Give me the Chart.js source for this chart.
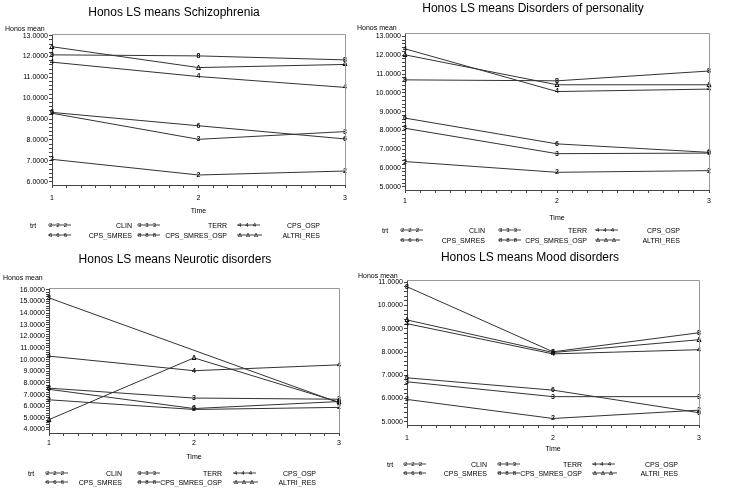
<!DOCTYPE html>
<html>
<head>
<meta charset="utf-8">
<script src="https://cdn.jsdelivr.net/npm/chart.js@4/dist/chart.umd.min.js"></script>
<style>
  body { margin: 0; background: #fff; width: 731px; height: 491px; position: relative; overflow: hidden;
         font-family: "Liberation Sans", Arial, sans-serif; color: #000; }
  canvas { position: absolute; }
  .title { position: absolute; font-size: 12px; white-space: nowrap; transform: translate(-50%, -50%); }
  .small, .lab, .sym { position: absolute; white-space: nowrap; will-change: transform; -webkit-font-smoothing: antialiased; color: #000; }
  .small { font-size: 7px; transform: translateY(-50%); }
  .lab { font-size: 7px; transform: translate(-100%, -50%); }
  .sym { font-size: 6px; letter-spacing: 4px; transform: translateY(-50%); padding-left: 1px;
         background: linear-gradient(#444, #444) center / 100% 1px no-repeat; line-height: 7px; }
</style>
</head>
<body>
<script>
// dati
const times = [1, 2, 3];
const groups = ['CLIN', 'TERR', 'CPS_OSP', 'CPS_SMRES', 'CPS_SMRES_OSP', 'ALTRI_RES'];
const markers = ['2', '3', '4', '6', '8', '\u0394'];

// Schizophrenia
const schizoCLIN = [7.07, 6.32, 6.51];
const schizoTERR = [9.28, 8.03, 8.40];
const schizoCPS_OSP = [11.73, 11.04, 10.52];
const schizoCPS_SMRES = [9.32, 8.68, 8.05];
const schizoCPS_SMRES_OSP = [12.08, 12.03, 11.84];
const schizoALTRI_RES = [12.47, 11.47, 11.62];
const schizoTicks = [6, 7, 8, 9, 10, 11, 12, 13];

// Disorders of personality
const persCLIN = [6.35, 5.78, 5.87];
const persTERR = [8.12, 6.77, 6.80];
const persCPS_OSP = [12.34, 10.07, 10.20];
const persCPS_SMRES = [8.66, 7.29, 6.84];
const persCPS_SMRES_OSP = [10.69, 10.64, 11.16];
const persALTRI_RES = [12.02, 10.43, 10.43];
const persTicks = [5, 6, 7, 8, 9, 10, 11, 12, 13];

// Neurotic disorders (CPS_SMRES_OSP senza valore al tempo 2)
const neurCLIN = [6.55, 5.72, 5.90];
const neurTERR = [7.55, 6.70, 6.60];
const neurCPS_OSP = [10.30, 9.05, 9.55];
const neurCPS_SMRES = [7.45, 5.80, 6.40];
const neurCPS_SMRES_OSP = [15.30, null, 6.30];
const neurALTRI_RES = [4.85, 10.15, 6.35];
const neurTicks = [4, 5, 6, 7, 8, 9, 10, 11, 12, 13, 14, 15, 16];

// Mood disorders
const moodCLIN = [5.96, 5.14, 5.50];
const moodTERR = [6.72, 6.08, 6.08];
const moodCPS_OSP = [9.22, 7.92, 8.10];
const moodCPS_SMRES = [6.89, 6.36, 5.39];
const moodCPS_SMRES_OSP = [10.81, 8.01, 8.83];
const moodALTRI_RES = [9.38, 7.98, 8.53];
const moodTicks = [5, 6, 7, 8, 9, 10, 11];

// posizioni dei pannelli (pixel della pagina)
const panels = [
  { title: 'Honos LS means Schizophrenia', titleX: 174, titleY: 12,
    series: [schizoCLIN, schizoTERR, schizoCPS_OSP, schizoCPS_SMRES, schizoCPS_SMRES_OSP, schizoALTRI_RES],
    ticks: schizoTicks, yMin: 5.84, yMax: 13.08,
    x: 0, y: 0, w: 365, area: { l: 52, r: 345, t: 34, b: 185 }, xPad: 6, timeY: 211, yLabX: 5, yLabY: 28,
    leg: { trt: 30, sym: [48, 137, 237], lab: [132, 227, 320], rows: [225, 235] } },
  { title: 'Honos LS means Disorders of personality', titleX: 533, titleY: 8,
    series: [persCLIN, persTERR, persCPS_OSP, persCPS_SMRES, persCPS_SMRES_OSP, persALTRI_RES],
    ticks: persTicks, yMin: 4.84, yMax: 13.18,
    x: 365, y: 0, w: 366, area: { l: 405, r: 709, t: 33, b: 190 }, xPad: 4, timeY: 218, yLabX: 357, yLabY: 27,
    leg: { trt: 382, sym: [400, 498, 595], lab: [485, 587, 680], rows: [230, 240] } },
  { title: 'Honos LS means Neurotic disorders', titleX: 175, titleY: 259,
    series: [neurCLIN, neurTERR, neurCPS_OSP, neurCPS_SMRES, neurCPS_SMRES_OSP, neurALTRI_RES],
    ticks: neurTicks, yMin: 3.7, yMax: 16.15,
    x: 0, y: 245, w: 365, area: { l: 49, r: 339, t: 288, b: 433 }, xPad: 3, timeY: 457, yLabX: 3, yLabY: 277,
    leg: { trt: 28, sym: [45, 137, 233], lab: [122, 222, 316], rows: [473, 482] } },
  { title: 'Honos LS means Mood disorders', titleX: 530, titleY: 257,
    series: [moodCLIN, moodTERR, moodCPS_OSP, moodCPS_SMRES, moodCPS_SMRES_OSP, moodALTRI_RES],
    ticks: moodTicks, yMin: 4.86, yMax: 11.1,
    x: 365, y: 245, w: 366, area: { l: 407, r: 699, t: 280, b: 425 }, xPad: 6, timeY: 449, yLabX: 358, yLabY: 275,
    leg: { trt: 387, sym: [403, 497, 592], lab: [487, 582, 678], rows: [464, 473] } }
];

const isInt = v => Math.abs(v - Math.round(v)) < 1e-6;

// cornice superiore e destra
const framePlugin = {
  id: 'frame',
  afterDraw(chart) {
    const a = chart.chartArea, ctx = chart.ctx;
    ctx.save();
    ctx.strokeStyle = '#999';
    ctx.lineWidth = 1;
    ctx.beginPath();
    ctx.moveTo(a.left, a.top + 0.5);
    ctx.lineTo(a.right + 0.5, a.top + 0.5);
    ctx.lineTo(a.right + 0.5, a.bottom);
    ctx.stroke();
    ctx.restore();
  }
};

// simboli SAS sui punti
const markerPlugin = {
  id: 'markers',
  afterDatasetsDraw(chart) {
    const ctx = chart.ctx;
    ctx.save();
    ctx.font = 'bold 7px "Liberation Sans", Arial, sans-serif';
    ctx.textAlign = 'center';
    ctx.textBaseline = 'middle';
    ctx.fillStyle = '#111';
    chart.data.datasets.forEach((ds, i) => {
      chart.getDatasetMeta(i).data.forEach(pt => {
        if (pt.skip) return;
        ctx.fillText(ds.marker, pt.x, pt.y);
      });
    });
    ctx.restore();
  }
};

function addDiv(cls, text, x, y) {
  const d = document.createElement('div');
  d.className = cls;
  d.textContent = text;
  d.style.left = x + 'px';
  d.style.top = y + 'px';
  document.body.appendChild(d);
  return d;
}

function makePanel(p) {
  const h = p.timeY - p.y + 4;
  const cv = document.createElement('canvas');
  cv.width = p.w; cv.height = h;
  cv.style.width = p.w + 'px'; cv.style.height = h + 'px';
  cv.style.left = p.x + 'px'; cv.style.top = p.y + 'px';
  document.body.appendChild(cv);

  const xTicks = [];
  for (let k = 10; k <= 30; k++) xTicks.push(k / 10);
  const yTicks = [];
  for (let v = p.ticks[0]; v <= p.ticks[p.ticks.length - 1] + 1e-6; v += 0.2) yTicks.push(Math.round(v * 10) / 10);

  new Chart(cv, {
    type: 'line',
    data: {
      datasets: groups.map((g, i) => ({
        label: g,
        marker: markers[i],
        data: p.series[i].map((v, k) => ({ x: times[k], y: v })),
        borderColor: '#333',
        borderWidth: 1,
        pointRadius: 0,
        spanGaps: true,
        tension: 0
      }))
    },
    options: {
      responsive: false,
      animation: false,
      events: [],
      layout: { padding: { left: 0, top: p.area.t - p.y, right: p.x + p.w - p.area.r, bottom: 0 } },
      plugins: { legend: { display: false }, tooltip: { enabled: false }, title: { display: false } },
      scales: {
        x: {
          type: 'linear', min: 1, max: 3,
          afterBuildTicks: s => { s.ticks = xTicks.map(v => ({ value: v })); },
          afterFit: s => { s.height = h - (p.area.b - p.y); },
          ticks: { autoSkip: false, maxRotation: 0, padding: p.xPad, color: '#000',
                   font: { size: 7, family: '"Liberation Sans", Arial, sans-serif' },
                   callback: v => isInt(v) ? String(Math.round(v)) : '' },
          grid: { drawOnChartArea: false, tickLength: 3, color: '#444' },
          border: { color: '#444' },
          title: { display: true, text: 'Time', color: '#000', padding: 0,
                   font: { size: 7, family: '"Liberation Sans", Arial, sans-serif' } }
        },
        y: {
          min: p.yMin, max: p.yMax,
          afterBuildTicks: s => { s.ticks = yTicks.map(v => ({ value: v })); },
          afterFit: s => { s.width = p.area.l - p.x; },
          ticks: { autoSkip: false, padding: 1, color: '#000',
                   font: { size: 7, family: '"Liberation Sans", Arial, sans-serif' },
                   callback: v => isInt(v) ? v.toFixed(4) : '' },
          grid: { drawOnChartArea: false, tickLength: 3, color: '#444' },
          border: { color: '#444' }
        }
      }
    },
    plugins: [framePlugin, markerPlugin]
  });

  addDiv('title', p.title, p.titleX, p.titleY);
  addDiv('small', 'Honos mean', p.yLabX, p.yLabY);

  // legenda stile SAS
  addDiv('small', 'trt', p.leg.trt, p.leg.rows[0]);
  groups.forEach((g, i) => {
    const row = Math.floor(i / 3), col = i % 3;
    addDiv('sym', markers[i].repeat(3), p.leg.sym[col], p.leg.rows[row]);
    addDiv('lab', g, p.leg.lab[col], p.leg.rows[row]);
  });
}

panels.forEach(makePanel);
</script>
</body>
</html>
